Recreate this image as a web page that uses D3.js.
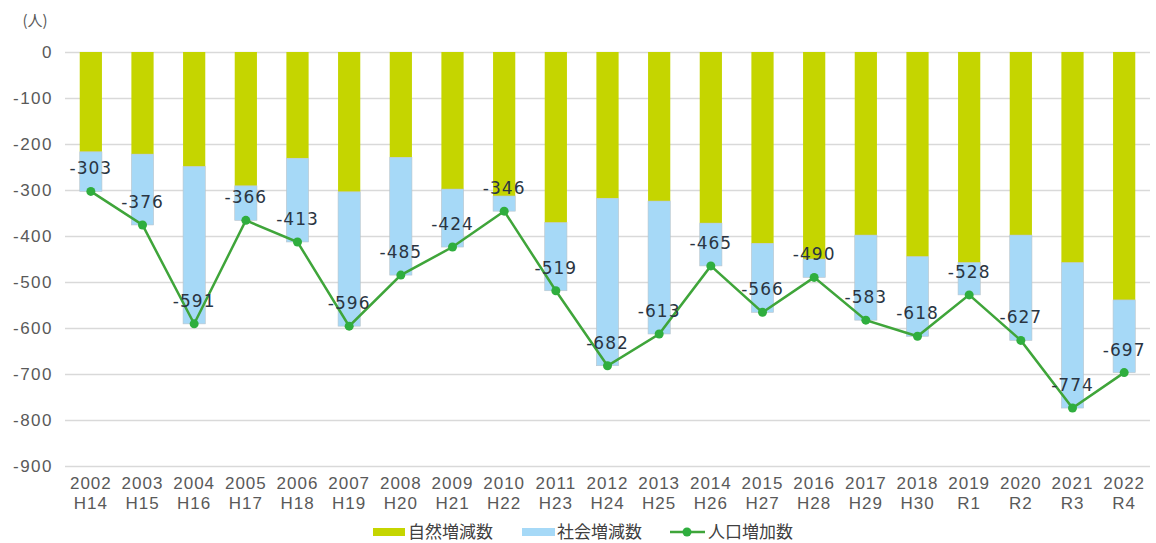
<!DOCTYPE html>
<html>
<head>
<meta charset="utf-8">
<script src="https://cdn.jsdelivr.net/npm/d3@7"></script>
<style>
  html, body { margin: 0; padding: 0; background: #fff; }
  svg { display: block; font-family: "DejaVu Sans", sans-serif; }
</style>
</head>
<body>
<div id="chart"></div>
<script>
const years = ['2002', '2003', '2004', '2005', '2006', '2007', '2008', '2009', '2010', '2011', '2012',
    '2013', '2014', '2015', '2016', '2017', '2018', '2019', '2020', '2021', '2022'];
const eras = ['H14', 'H15', 'H16', 'H17', 'H18', 'H19', 'H20', 'H21', 'H22', 'H23', 'H24',
    'H25', 'H26', 'H27', 'H28', 'H29', 'H30', 'R1', 'R2', 'R3', 'R4'];
// 自然増減数
const natural = [-217, -222, -249, -291, -231, -304, -229, -298, -313, -371, -318,
    -324, -372, -416, -450, -398, -445, -458, -398, -458, -539];
// 社会増減数
const social = [-86, -154, -342, -75, -182, -292, -256, -126, -33, -148, -364,
    -289, -93, -150, -40, -185, -173, -70, -229, -316, -158];
// 人口増加数
const total = [-303, -376, -591, -366, -413, -596, -485, -424, -346, -519, -682,
    -613, -465, -566, -490, -583, -618, -528, -627, -774, -697];
const yTicks = [0, -100, -200, -300, -400, -500, -600, -700, -800, -900];

const width = 1156, height = 543;
const plotLeft = 65, plotRight = 1150, plotTop = 52, plotBottom = 466;

const svg = d3.select('#chart').append('svg')
    .attr('width', width)
    .attr('height', height);

const x = d3.scaleBand()
    .domain(years)
    .range([plotLeft, plotRight])
    .paddingInner(0.57)
    .paddingOuter(0.285);
const y = d3.scaleLinear()
    .domain([-900, 0])
    .range([plotBottom, plotTop]);

// grid + y axis
const yAxis = svg.append('g')
    .attr('transform', `translate(${plotLeft}, 0)`)
    .call(d3.axisLeft(y).tickValues(yTicks).tickSize(-(plotRight - plotLeft)).tickFormat(d3.format('d')));
yAxis.select('.domain').remove();
yAxis.selectAll('line').attr('stroke', '#d9d9d9').attr('stroke-width', 1.5);
yAxis.selectAll('text')
    .attr('x', -12)
    .attr('fill', '#595959')
    .style('font-size', '17px')
    .style('letter-spacing', '1.5px')
    .text(d => d === 0 ? '0' : '-' + Math.abs(d));

svg.append('text')
    .attr('x', 35).attr('y', 26)
    .attr('text-anchor', 'middle')
    .attr('fill', '#595959')
    .style('font-family', '"Noto Sans CJK JP", sans-serif')
    .style('font-size', '15px')
    .text('(人)');

// x axis labels
const xAxis = svg.append('g')
    .attr('transform', `translate(0, ${plotBottom})`)
    .call(d3.axisBottom(x).tickSize(0).tickFormat(''));
xAxis.select('.domain').remove();
xAxis.selectAll('.tick').each(function(d, i) {
    const t = d3.select(this).append('text')
        .attr('fill', '#595959')
        .attr('text-anchor', 'middle')
        .style('font-size', '17px')
        .style('letter-spacing', '1px');
    t.append('tspan').attr('x', 0).attr('y', 23).text(d);
    t.append('tspan').attr('x', 0).attr('y', 43).text(eras[i]);
});

// stacked bars
const bars = svg.append('g');
bars.selectAll('rect.nat')
    .data(natural)
    .join('rect')
    .attr('class', 'nat')
    .attr('x', (d, i) => x(years[i]))
    .attr('y', y(0))
    .attr('width', x.bandwidth())
    .attr('height', d => y(d) - y(0))
    .attr('fill', '#c5d500');
bars.selectAll('rect.soc')
    .data(social)
    .join('rect')
    .attr('class', 'soc')
    .attr('x', (d, i) => x(years[i]))
    .attr('y', (d, i) => y(natural[i]))
    .attr('width', x.bandwidth())
    .attr('height', d => y(d) - y(0))
    .attr('fill', '#a6d9f7')
    .attr('stroke', '#b9c4cc')
    .attr('stroke-width', 0.6);

// line
const cx = (d, i) => x(years[i]) + x.bandwidth() / 2;
svg.append('path')
    .datum(total)
    .attr('fill', 'none')
    .attr('stroke', '#3fa53a')
    .attr('stroke-width', 2.5)
    .attr('d', d3.line().x(cx).y(d => y(d)));
svg.append('g').selectAll('circle')
    .data(total)
    .join('circle')
    .attr('cx', cx)
    .attr('cy', d => y(d))
    .attr('r', 4.5)
    .attr('fill', '#2fae3e');

// data labels
svg.append('g').selectAll('text')
    .data(total)
    .join('text')
    .attr('x', cx)
    .attr('y', d => y(d) - 17)
    .attr('text-anchor', 'middle')
    .attr('fill', '#2a3542')
    .style('font-size', '17px')
    .style('letter-spacing', '1px')
    .text(d => '-' + Math.abs(d));

// legend
const legend = svg.append('g')
    .attr('transform', 'translate(0, 532)')
    .style('font-family', '"Noto Sans CJK JP", sans-serif')
    .style('font-size', '17px')
    .attr('fill', '#404040');
legend.append('rect').attr('x', 373).attr('y', -4).attr('width', 32).attr('height', 8).attr('fill', '#c5d500');
legend.append('text').attr('x', 408).attr('y', 6).text('自然増減数');
legend.append('rect').attr('x', 522).attr('y', -4).attr('width', 33).attr('height', 8).attr('fill', '#a6d9f7');
legend.append('text').attr('x', 557).attr('y', 6).text('社会増減数');
legend.append('line').attr('x1', 670).attr('x2', 705).attr('y1', 0).attr('y2', 0)
    .attr('stroke', '#3fa53a').attr('stroke-width', 2.5);
legend.append('circle').attr('cx', 687).attr('cy', 0).attr('r', 4.5).attr('fill', '#2fae3e');
legend.append('text').attr('x', 708).attr('y', 6).text('人口増加数');
</script>
</body>
</html>
